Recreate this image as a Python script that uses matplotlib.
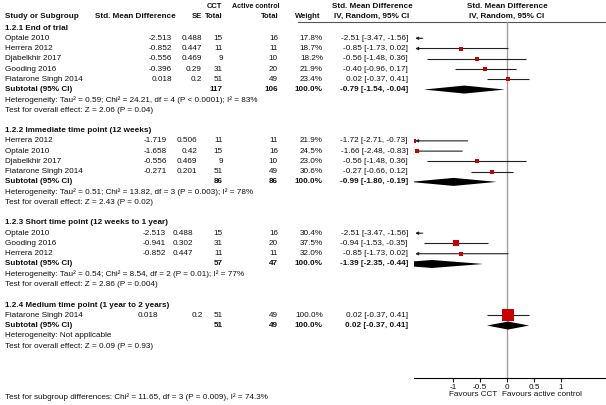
import matplotlib
matplotlib.use('Agg')
import matplotlib.pyplot as plt
from matplotlib.patches import Polygon
from matplotlib import transforms

plt.rcParams['font.family'] = ['Liberation Sans', 'DejaVu Sans']

# ---- data ----
groups = ['1.2.1 End of trial',
          '1.2.2 Immediate time point (12 weeks)',
          '1.2.3 Short time point (12 weeks to 1 year)',
          '1.2.4 Medium time point (1 year to 2 years)']
studies = [['Optale 2010', 'Herrera 2012', 'Djabelkhir 2017', 'Gooding 2016', 'Fiatarone Singh 2014'],
           ['Herrera 2012', 'Optale 2010', 'Djabelkhir 2017', 'Fiatarone Singh 2014'],
           ['Optale 2010', 'Gooding 2016', 'Herrera 2012'],
           ['Fiatarone Singh 2014']]
smd = [[-2.513, -0.852, -0.556, -0.396, 0.018],
       [-1.719, -1.658, -0.556, -0.271],
       [-2.513, -0.941, -0.852],
       [0.018]]
se = [[0.488, 0.447, 0.469, 0.29, 0.2],
      [0.506, 0.42, 0.469, 0.201],
      [0.488, 0.302, 0.447],
      [0.2]]
n_cct = [[15, 11, 9, 31, 51], [11, 15, 9, 51], [15, 31, 11], [51]]
n_ctrl = [[16, 11, 10, 20, 49], [11, 16, 10, 49], [16, 20, 11], [49]]
weight = [[17.8, 18.7, 18.2, 21.9, 23.4], [21.9, 24.5, 23.0, 30.6], [30.4, 37.5, 32.0], [100.0]]
est = [[-2.51, -0.85, -0.56, -0.40, 0.02], [-1.72, -1.66, -0.56, -0.27], [-2.51, -0.94, -0.85], [0.02]]
ci_lo = [[-3.47, -1.73, -1.48, -0.96, -0.37], [-2.71, -2.48, -1.48, -0.66], [-3.47, -1.53, -1.73], [-0.37]]
ci_hi = [[-1.56, 0.02, 0.36, 0.17, 0.41], [-0.73, -0.83, 0.36, 0.12], [-1.56, -0.35, 0.02], [0.41]]
sub_cct = [117, 86, 57, 51]
sub_ctrl = [106, 86, 47, 49]
sub_est = [-0.79, -0.99, -1.39, 0.02]
sub_lo = [-1.54, -1.80, -2.35, -0.37]
sub_hi = [-0.04, -0.19, -0.44, 0.41]
heterogeneity = ['Heterogeneity: Tau² = 0.59; Chi² = 24.21, df = 4 (P < 0.0001); I² = 83%',
                 'Heterogeneity: Tau² = 0.51; Chi² = 13.82, df = 3 (P = 0.003); I² = 78%',
                 'Heterogeneity: Tau² = 0.54; Chi² = 8.54, df = 2 (P = 0.01); I² = 77%',
                 'Heterogeneity: Not applicable']
overall = ['Test for overall effect: Z = 2.06 (P = 0.04)',
           'Test for overall effect: Z = 2.43 (P = 0.02)',
           'Test for overall effect: Z = 2.86 (P = 0.004)',
           'Test for overall effect: Z = 0.09 (P = 0.93)']
subgroup_test = 'Test for subgroup differences: Chi² = 11.65, df = 3 (P = 0.009), I² = 74.3%'
ticks = [-1, -0.5, 0, 0.5, 1]
tick_labels = ['-1', '-0.5', '0', '0.5', '1']

# ---- layout (pixels) ----
W, H = 606, 405
ROW0, ROWH = 28, 10.26
ZERO_PX, UNIT_PX = 507, 54
XMIN, XMAX, CLIP = -1.72, 1.83, -1.70
AXIS_PX, TOP_PX = 378, 22
smd_col = [172, 167, 166, 158]
se_col = [202, 197, 193, 203]
FS = 5.9
HFS = 5.5
TXT = '#111111'


def row_y(px):
    return (px - ROW0) / ROWH


fig = plt.figure(figsize=(W / 100, H / 100), dpi=100)
tx = fig.add_axes([0, 0, 1, 1])
tx.set_xlim(0, W)
tx.set_ylim(row_y(H), row_y(0))
tx.axis('off')

left = (ZERO_PX + XMIN * UNIT_PX) / W
width = (XMAX - XMIN) * UNIT_PX / W
ax = fig.add_axes([left, (H - AXIS_PX) / H, width, (AXIS_PX - TOP_PX) / H])
ax.set_xlim(XMIN, XMAX)
ax.set_ylim(row_y(AXIS_PX), row_y(TOP_PX))
ax.patch.set_alpha(0)
for s in ['top', 'left', 'right']:
    ax.spines[s].set_visible(False)
ax.spines['bottom'].set_linewidth(0.8)
ax.set_yticks([])
ax.set_xticks(ticks)
ax.set_xticklabels(tick_labels)
ax.tick_params(axis='x', direction='out', length=3, width=0.8, labelsize=FS, pad=1.2, colors=TXT)
ax.axvline(0, color='#a0a0a0', lw=1, zorder=0)


def put(x, y, s, ha='left', bold=False, size=FS):
    tx.text(x, y, s, ha=ha, va='center', fontsize=size, color=TXT,
            fontweight='bold' if bold else 'normal')


# header
put(214, row_y(6), 'CCT', ha='center', bold=True, size=HFS)
put(279, row_y(6), 'Active control', ha='right', bold=True, size=5.1)
put(372, row_y(6), 'Std. Mean Difference', ha='center', bold=True)
put(ZERO_PX, row_y(6), 'Std. Mean Difference', ha='center', bold=True)
put(5, row_y(16), 'Study or Subgroup', bold=True)
put(176, row_y(16), 'Std. Mean Difference', ha='right', bold=True)
put(202, row_y(16), 'SE', ha='right', bold=True, size=HFS)
put(223, row_y(16), 'Total', ha='right', bold=True, size=HFS)
put(279, row_y(16), 'Total', ha='right', bold=True, size=HFS)
put(295, row_y(16), 'Weight', bold=True, size=HFS)
put(372, row_y(16), 'IV, Random, 95% CI', ha='center', bold=True)
put(ZERO_PX, row_y(16), 'IV, Random, 95% CI', ha='center', bold=True)
tx.plot([298, W], [row_y(TOP_PX)] * 2, color='#555555', lw=0.8)

r = 0
for g in range(len(groups)):
    put(5, r, groups[g], bold=True)
    r += 1
    for i in range(len(studies[g])):
        put(5, r, studies[g][i])
        put(smd_col[g], r, str(smd[g][i]), ha='right')
        put(se_col[g], r, str(se[g][i]), ha='right')
        put(223, r, str(n_cct[g][i]), ha='right')
        put(278, r, str(n_ctrl[g][i]), ha='right')
        put(323, r, f'{weight[g][i]:.1f}%', ha='right')
        put(408, r, f'{est[g][i]:.2f} [{ci_lo[g][i]:.2f}, {ci_hi[g][i]:.2f}]', ha='right')
        hi = min(ci_hi[g][i], XMAX)
        if ci_lo[g][i] < CLIP:
            ax.annotate('', xy=(CLIP, r), xytext=(hi, r),
                        arrowprops=dict(arrowstyle='-|>', lw=0.8, color='#222222',
                                        mutation_scale=4, shrinkA=0, shrinkB=0))
        else:
            ax.hlines(r, ci_lo[g][i], hi, color='#222222', lw=0.8)
        side = (1.4 + 10.3 * weight[g][i] / 100) * 0.72
        ax.scatter([est[g][i]], [r], marker='s', s=side ** 2, color='#cc0000',
                   linewidths=0, zorder=3)
        r += 1
    put(5, r, 'Subtotal (95% CI)', bold=True)
    put(223, r, str(sub_cct[g]), ha='right', bold=True)
    put(278, r, str(sub_ctrl[g]), ha='right', bold=True)
    put(323, r, '100.0%', ha='right', bold=True)
    put(408, r, f'{sub_est[g]:.2f} [{sub_lo[g]:.2f}, {sub_hi[g]:.2f}]', ha='right', bold=True)
    h = 0.39
    ax.add_patch(Polygon([(sub_lo[g], r), (sub_est[g], r - h), (sub_hi[g], r), (sub_est[g], r + h)],
                         closed=True, color='black', lw=0, zorder=4))
    r += 1
    put(5, r, heterogeneity[g])
    r += 1
    put(5, r, overall[g])
    r += 2

put(5, row_y(397), subgroup_test)

blend = transforms.blended_transform_factory(ax.transData, tx.transData)
tx.text(-0.185, row_y(395), 'Favours CCT', transform=blend, ha='right', va='center',
        fontsize=FS, color=TXT)
tx.text(-0.09, row_y(395), 'Favours active control', transform=blend, ha='left', va='center',
        fontsize=FS, color=TXT)

fig.savefig('out.png', dpi=100)
